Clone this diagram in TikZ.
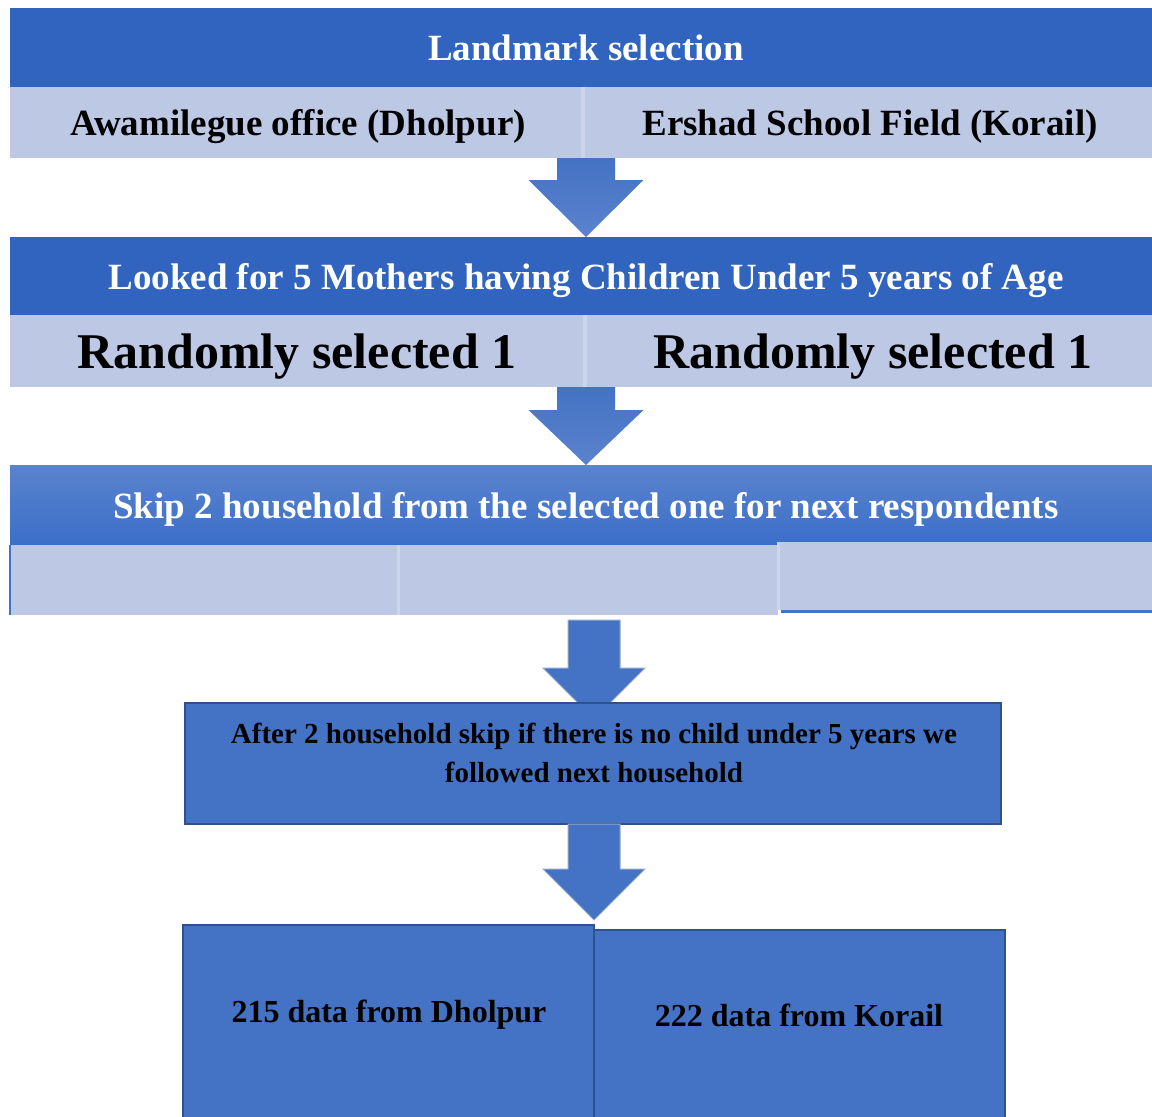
\documentclass[tikz,border=0pt]{standalone}
\usepackage{fontspec}
\setmainfont{Liberation Serif}
\usetikzlibrary{calc}
\definecolor{bandblue}{HTML}{3064BE}
\definecolor{paleblue}{HTML}{BDC8E5}
\definecolor{seamblue}{HTML}{CDD5EC}
\definecolor{boxblue}{HTML}{4472C4}
\definecolor{edgeblue}{HTML}{2F528F}
\definecolor{fadeblue}{HTML}{5B83CD}
\definecolor{deepblue}{HTML}{3A6FC9}
\tikzset{
  cell/.style={rectangle, inner sep=0pt, outer sep=0pt, minimum width=#1},
  band/.style={cell=1142, minimum height=79, fill=bandblue},
  pale/.style={fill=paleblue},
  flowbox/.style={fill=boxblue, draw=edgeblue, line width=1.5},
  whitetxt/.style={text=white, font=\bfseries\fontsize{37}{44}\selectfont},
  blacktxt/.style={text=black, font=\bfseries\fontsize{#1}{#1}\selectfont}
}
% block arrow: style, from, to, x, shaft half width, head half width, head length
\newcommand{\blockdown}[7]{%
  \path[#1] ($(#4,0 |- #2)+(-#5,0)$) -- ($(#4,0 |- #2)+(#5,0)$)
    -- ($(#4,0 |- #3)+(#5,-#7)$) -- ($(#4,0 |- #3)+(#6,-#7)$)
    -- (#4,0 |- #3) -- ($(#4,0 |- #3)+(-#6,-#7)$)
    -- ($(#4,0 |- #3)+(-#5,-#7)$) -- cycle;}
\begin{document}
\begin{tikzpicture}[x=1pt, y=-1pt]
\useasboundingbox (0,0) rectangle (1152,1117);
\fill[white] (0,0) rectangle (1152,1117);

% landmark selection
\node[band] (head1) at (581,47.5) {};
\node[whitetxt] (t1) at (586,48) {Landmark selection};
\node[cell=573, minimum height=71, pale] (row1L) at (296.5,122.5) {};
\node[cell=569, minimum height=71, pale] (row1R) at (867.5,122.5) {};
\draw[seamblue, line width=4] (row1L.north east) -- (row1L.south east);
\node[blacktxt=37] (t1L) at (298,127) {Awamilegue office (Dholpur)};
\node[blacktxt=37] (t1R) at (870,127) {Ershad School Field (Korail)};

% mothers
\node[band, minimum height=78] (head2) at (581,276) {};
\node[whitetxt] (t2) at (586,281) {Looked for 5 Mothers having Children Under 5 years of Age};
\node[cell=575, minimum height=72, pale] (row2L) at (297.5,351) {};
\node[cell=567, minimum height=72, pale] (row2R) at (868.5,351) {};
\draw[seamblue, line width=4] (row2L.north east) -- (row2L.south east);
\node[blacktxt=50] (t2L) at (297,357) {Randomly selected 1};
\node[blacktxt=50] (t2R) at (873,357) {Randomly selected 1};

% skip households
\node[cell=1142, minimum height=80, top color=fadeblue, bottom color=deepblue] (head3) at (581,505) {};
\node[whitetxt] (t3) at (586,509) {Skip 2 household from the selected one for next respondents};
\node[cell=388, minimum height=70, pale] (row3a) at (204,580) {};
\node[cell=380, minimum height=70, pale] (row3b) at (588,580) {};
\node[cell=374, minimum height=68, pale] (row3c) at (965,576) {};
\draw[boxblue, line width=2] (row3a.north west) -- (row3a.south west);
\draw[seamblue, line width=3] (row3a.north east) -- (row3a.south east);
\draw[seamblue, line width=3] (row3c.north west) -- (row3c.south west);
\draw[boxblue, line width=3] ($(row3c.south west)+(3,1.5)$) -- ($(row3c.south east)+(0,1.5)$);

% arrows between steps
\coordinate (a3top) at ($(row3a.south)+(0,5)$);
\coordinate (a3tip) at (594,719);
\coordinate (a4tip) at (594,920);
\blockdown{top color=boxblue, bottom color=fadeblue}{row1L.south}{head2.north}{586}{29}{57.5}{57}
\blockdown{top color=boxblue, bottom color=fadeblue}{row2L.south}{head3.north}{586}{29}{57.5}{55}
\blockdown{fill=boxblue, draw=edgeblue!50, line width=1}{a3top}{a3tip}{594}{26}{51}{51}

% household rule
\node[cell=816, minimum height=121, flowbox] (box4) at (593,763.5) {};
\node[blacktxt=29] (t4a) at (594,736) {After 2 household skip if there is no child under 5 years we};
\node[blacktxt=29] (t4b) at (594,772) {followed next household};
\blockdown{fill=boxblue, draw=edgeblue!50, line width=1}{box4.south}{a4tip}{594}{26}{51}{51}

% results
\node[cell=411, minimum height=200, flowbox] (box5L) at (388.5,1025) {};
\node[cell=411, minimum height=195, flowbox] (box5R) at (799.5,1027.5) {};
\node[blacktxt=32] (t5L) at (389,1015) {215 data from Dholpur};
\node[blacktxt=32] (t5R) at (799,1015) {222 data from Korail};
\end{tikzpicture}
\end{document}
